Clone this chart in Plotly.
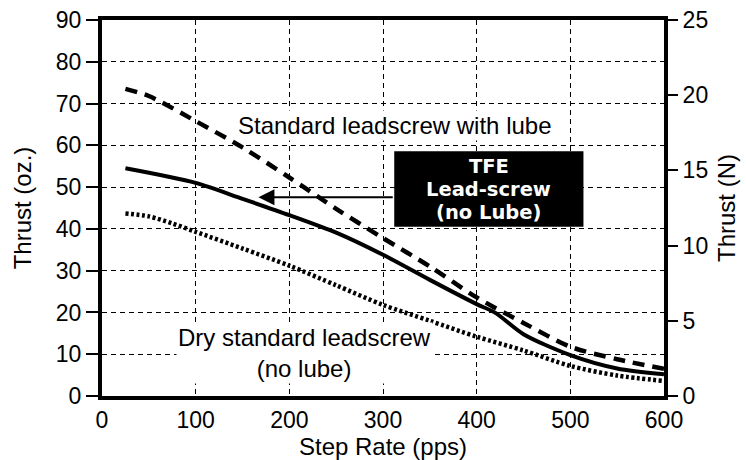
import plotly.graph_objects as go

# Step rate (pps) sample points for each curve
rate_lube = [25, 50, 100, 150, 200, 250, 300, 350, 400, 450, 500, 550, 600]
thrust_lube = [73.5, 71.8, 65.8, 59.5, 52.3, 44.8, 37.8, 31.0, 23.6, 17.5, 11.8, 8.8, 6.5]

rate_tfe = [25, 100, 150, 200, 250, 300, 350, 400, 420, 450, 500, 550, 600]
thrust_tfe = [54.5, 51.0, 47.2, 43.3, 39.1, 33.8, 27.8, 22.0, 19.9, 14.8, 9.8, 6.6, 5.2]

rate_dry = [25, 50, 75, 100, 150, 200, 250, 300, 350, 400, 450, 500, 550, 600]
thrust_dry = [43.7, 43.0, 41.3, 39.3, 35.3, 31.2, 26.5, 21.8, 18.0, 14.2, 10.9, 7.2, 4.9, 3.6]

x_ticks = [0, 100, 200, 300, 400, 500, 600]
oz_ticks = [0, 10, 20, 30, 40, 50, 60, 70, 80, 90]
n_ticks = [0, 5, 10, 15, 20, 25]

callout_lines = ["TFE", "Lead-screw", "(no Lube)"]

FONT = "Liberation Sans, Arial, Helvetica, sans-serif"
BOLD_FONT = "DejaVu Sans, Liberation Sans, sans-serif"
INK = "black"

fig = go.Figure()

fig.add_trace(go.Scatter(
    x=rate_lube, y=thrust_lube, mode="lines",
    line=dict(color=INK, width=4.5, dash="12px,8px", shape="spline", smoothing=0.8),
    hoverinfo="skip", showlegend=False))
fig.add_trace(go.Scatter(
    x=rate_tfe, y=thrust_tfe, mode="lines",
    line=dict(color=INK, width=4, shape="spline", smoothing=0.8),
    hoverinfo="skip", showlegend=False))
fig.add_trace(go.Scatter(
    x=rate_dry, y=thrust_dry, mode="lines",
    line=dict(color=INK, width=4.5, dash="3px,2.5px", shape="spline", smoothing=0.8),
    hoverinfo="skip", showlegend=False))
# carrier trace so the newton axis is rendered
fig.add_trace(go.Scatter(
    x=[0], y=[0], yaxis="y2", mode="lines", line=dict(width=0),
    hoverinfo="skip", showlegend=False))

# TFE callout box
fig.add_shape(type="rect", xref="x", yref="y", x0=312, x1=514, y0=40.5, y1=58.6,
              fillcolor=INK, line=dict(width=0), layer="above")

# stacked callout lines
for line_text, line_y in zip(callout_lines, [54.9, 49.4, 43.9]):
    fig.add_annotation(
        x=413, y=line_y, xref="x", yref="y", yanchor="middle",
        text="<b>%s</b>" % line_text, showarrow=False, borderpad=0,
        font=dict(family=BOLD_FONT, size=19.5, color="white"))

fig.add_annotation(
    x=167, y=47.6, ax=312, ay=47.6, xref="x", yref="y", axref="x", ayref="y",
    text="", showarrow=True, arrowhead=2, arrowsize=1.6, arrowwidth=2,
    arrowcolor=INK)

fig.add_annotation(
    x=143.5, y=64.8, xref="x", yref="y", xanchor="left", yanchor="middle",
    text="Standard leadscrew with lube", showarrow=False,
    font=dict(family=FONT, size=24, color=INK), bgcolor="white", borderpad=1)

fig.add_annotation(
    x=216, y=10.2, xref="x", yref="y", xanchor="center", yanchor="middle",
    text="Dry standard leadscrew<br>(no lube)", showarrow=False,
    font=dict(family=FONT, size=24, color=INK), bgcolor="white", borderpad=1,
    align="center")

fig.update_layout(
    width=746, height=460,
    margin=dict(l=101.5, r=82, t=20, b=64),
    paper_bgcolor="white", plot_bgcolor="white",
    font=dict(family=FONT, size=23, color=INK),
    xaxis=dict(
        range=[0, 600], tickvals=x_ticks, ticks="",
        showline=True, linewidth=4, linecolor=INK, mirror=True,
        showgrid=True, gridcolor=INK, gridwidth=1, griddash="5px,4px",
        zeroline=False, automargin=False,
        title=dict(text="Step Rate (pps)", standoff=0, font=dict(size=24)),
        tickfont=dict(size=23),
    ),
    yaxis=dict(
        range=[0, 90], tickvals=oz_ticks, ticks="outside", ticklen=12,
        tickwidth=1.5, tickcolor=INK,
        showline=True, linewidth=4, linecolor=INK,
        showgrid=True, gridcolor=INK, gridwidth=1, griddash="5px,4px",
        zeroline=False, automargin=False,
        title=dict(text="Thrust (oz.)", standoff=18, font=dict(size=24)),
        tickfont=dict(size=23),
    ),
    yaxis2=dict(
        range=[0, 25], tickvals=n_ticks, overlaying="y", side="right",
        ticks="outside", ticklen=10, tickwidth=1.5, tickcolor=INK,
        showline=True, linewidth=4, linecolor=INK,
        showgrid=False, zeroline=False, automargin=False,
        title=dict(text="Thrust (N)", standoff=12, font=dict(size=24)),
        tickfont=dict(size=23),
    ),
)

fig.write_html("out.html")
